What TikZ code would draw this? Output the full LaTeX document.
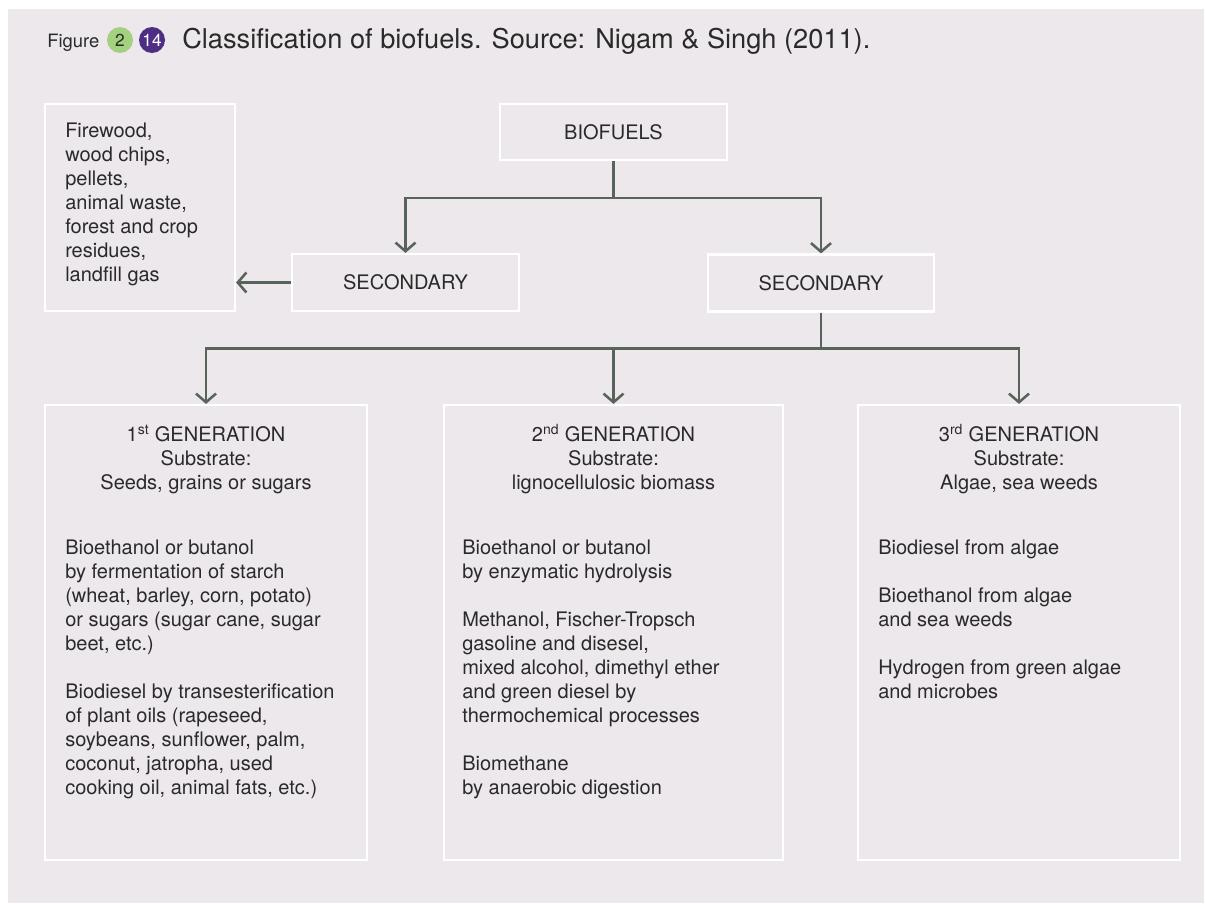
\documentclass[tikz,border=0pt]{standalone}
\usepackage{fontspec}
\setmainfont{TeX Gyre Heros}
\usetikzlibrary{arrows.meta}
\definecolor{panelbg}{HTML}{EDE8EB}
\definecolor{linkc}{HTML}{58645A}
\definecolor{inkc}{HTML}{2A2A2A}
\definecolor{badgegreen}{HTML}{A3D17F}
\definecolor{badgepurple}{HTML}{4E2D84}
\newdimen\pxu \pxu=0.75pt
\begin{document}
\begin{tikzpicture}[x=0.75pt,y=-0.75pt,
  every node/.style={text=inkc},
  box/.style={draw=white, line width=1.6pt, inner sep=0pt},
  conn/.style={draw=linkc, line width=1.9pt,
    -{Straight Barb[length=6.5pt,width=15pt,line width=1.9pt]}},
  bodyfont/.style={font=\fontsize{15}{18}\selectfont},
  bodytext/.style={bodyfont, align=left, inner sep=0pt, anchor=north west},
  headtext/.style={bodyfont, align=center, inner sep=0pt, anchor=north},
  badge/.style={circle, inner sep=0pt, minimum size=26\pxu,
    font=\fontsize{13}{13}\selectfont}
]
% page and panel
\useasboundingbox (0,0) rectangle (1205,903);
\fill[white] (0,0) rectangle (1205,903);
\fill[panelbg] (8,9) rectangle (1204,903);

% heading
\node[anchor=base west, inner sep=0pt, font=\fontsize{13.8}{16}\selectfont] (figlbl) at (47,47) {Figure};
\node[badge, fill=badgegreen] (chap) at (120,40) {2};
\node[badge, fill=badgepurple, text=white] (fignum) at (152,40) {14};
\node[anchor=base west, inner sep=0pt, font=\fontsize{20.4}{24}\selectfont] (title) at (182,48)
  {Classification of biofuels. Source: Nigam \& Singh (2011).};

% boxes
\node[box, minimum width=190\pxu, minimum height=207\pxu] (fuelsrc) at (140,207.5) {};
\node[box, minimum width=227\pxu, minimum height=56\pxu, bodyfont] (biofuels) at (613.5,132) {BIOFUELS};
\node[box, minimum width=227\pxu, minimum height=57\pxu, bodyfont] (secL) at (405.5,282.5) {SECONDARY};
\node[box, minimum width=226\pxu, minimum height=57\pxu, bodyfont] (secR) at (821,283) {SECONDARY};
\node[box, minimum width=322\pxu, minimum height=455\pxu] (gen1) at (206,632.5) {};
\node[box, minimum width=339\pxu, minimum height=455\pxu] (gen2) at (613.5,632.5) {};
\node[box, minimum width=322\pxu, minimum height=455\pxu] (gen3) at (1019,632.5) {};

% texts inside the boxes
\node[bodytext] (srclist) at (65,122.5) {Firewood,\\wood chips,\\pellets,\\animal waste,\\forest and crop\\residues,\\landfill gas};

\node[headtext] (head1) at (206,424.5) {1\textsuperscript{st} GENERATION\\Substrate:\\Seeds, grains or sugars};
\node[headtext] (head2) at (613.5,424.5) {2\textsuperscript{nd} GENERATION\\Substrate:\\lignocellulosic biomass};
\node[headtext] (head3) at (1019,424.5) {3\textsuperscript{rd} GENERATION\\Substrate:\\Algae, sea weeds};

\node[bodytext] (body1) at (65,539.5) {Bioethanol or butanol\\by fermentation of starch\\(wheat, barley, corn, potato)\\or sugars (sugar cane, sugar\\beet, etc.)\\[18pt]Biodiesel by transesterification\\of plant oils (rapeseed,\\soybeans, sunflower, palm,\\coconut, jatropha, used\\cooking oil, animal fats, etc.)};
\node[bodytext] (body2) at (462,539.5) {Bioethanol or butanol\\by enzymatic hydrolysis\\[18pt]Methanol, Fischer-Tropsch\\gasoline and disesel,\\mixed alcohol, dimethyl ether\\and green diesel by\\thermochemical processes\\[18pt]Biomethane\\by anaerobic digestion};
\node[bodytext] (body3) at (878,539.5) {Biodiesel from algae\\[18pt]Bioethanol from algae\\and sea weeds\\[18pt]Hydrogen from green algae\\and microbes};

% connectors
\draw[conn] (biofuels.south) -- ++(0,37) -| (secL.north);
\draw[conn] (biofuels.south) -- ++(0,37) -| (secR.north);
\draw[conn] (secL.west) -- (secL.west -| fuelsrc.east);
\draw[conn] (secR.south) -- ++(0,36) -| (gen1.north);
\draw[conn] (secR.south) -- ++(0,36) -| (gen2.north);
\draw[conn] (secR.south) -- ++(0,36) -| (gen3.north);
\end{tikzpicture}
\end{document}
